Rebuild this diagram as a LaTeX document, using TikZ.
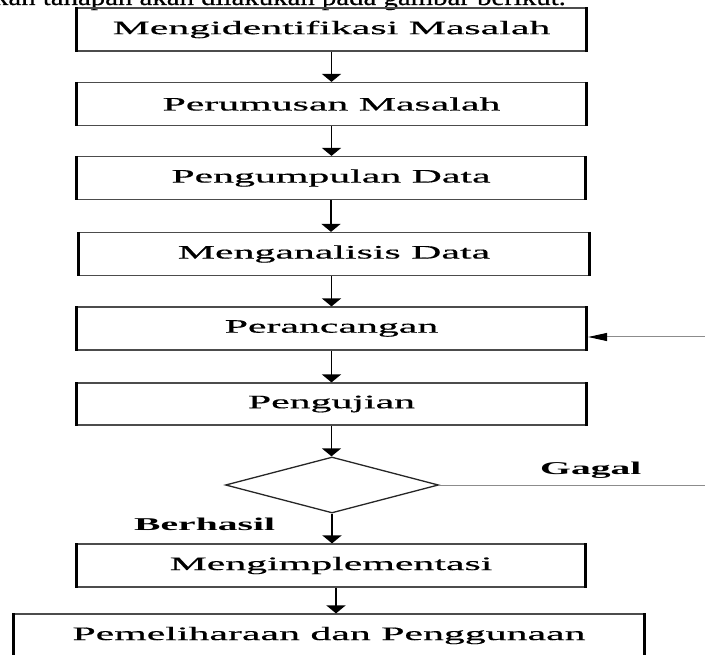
\documentclass[tikz,border=0pt]{standalone}
\usepackage{fontspec}
\setmainfont{Liberation Serif}
\newfontfamily\boxfont{Liberation Serif}[FakeBold=0.4]
\usepackage{graphicx}
\usetikzlibrary{arrows.meta,shapes.geometric}
\newcommand\sx[1]{\scalebox{2.2}[1]{#1}}
\begin{document}
\begin{tikzpicture}[x=1pt,y=-1pt,
  box/.style={draw=black!70, line width=1.2pt, minimum width=509pt, minimum height=43pt, inner sep=0pt, font=\boxfont\fontsize{19}{22}\selectfont},
  vedge/.style={line width=2.6pt, black},
  arr/.style={line width=1.7pt, -{Triangle[width=19pt,length=8pt]}},
  retarr/.style={line width=1pt, black!45, -{Triangle[width=8pt,length=19pt,color=black]}},
  lbl/.style={font=\fontsize{18}{21}\selectfont\bfseries, inner sep=0pt},
]
\useasboundingbox (0,0) rectangle (705,655);
\clip (0,0) rectangle (705,655);

\node[anchor=base east, inner sep=0pt, font=\boxfont\fontsize{24}{27}\selectfont] (top) at (566,5) {\scalebox{1.2}[1]{kan tahapan akan dilakukan pada gambar berikut.}};

\node[box] (b1) at (331.5,29.5) {\sx{Mengidentifikasi Masalah}};
\node[box] (b2) at (331.5,104) {\sx{Perumusan Masalah}};
\node[box, minimum width=508pt] (b3) at (331,178) {\sx{Pengumpulan Data}};
\node[box, minimum width=510pt] (b4) at (334,254) {\sx{Menganalisis Data}};
\node[box] (b5) at (331.5,328.5) {\sx{Perancangan}};
\node[box, minimum height=42pt] (b6) at (331.5,404) {\sx{Pengujian}};
\node[draw=black!85, line width=1.3pt, shape=diamond, minimum width=213pt, minimum height=56pt, inner sep=0pt] (dia) at (332,485) {};
\node[box, minimum width=508pt] (b7) at (331,565.5) {\sx{Mengimplementasi}};
\node[box, minimum width=630pt] (b8) at (329,635.5) {\sx{Pemeliharaan dan Penggunaan}};

\foreach \n in {b1,b2,b3,b4,b5,b6,b7,b8}
  \draw[vedge] (\n.north west) -- (\n.south west) (\n.north east) -- (\n.south east);

\draw[arr] (b1.south) -- (b1.south |- b2.north);
\draw[arr] (b2.south) -- (b2.south |- b3.north);
\draw[arr] (b3.south) -- (b3.south |- b4.north);
\draw[arr] (b4.south -| b5.south) -- (b5.north);
\draw[arr] (b5.south) -- (b5.south |- b6.north);
\draw[arr] (b6.south) -- (b6.south |- dia.north);
\draw[arr] (dia.south) -- (dia.south |- b7.north);
\draw[arr] ([xshift=5pt]b7.south) -- ([xshift=5pt]b7.south |- b8.north);

\coordinate (gR) at (705,485);
\coordinate (rR) at (705,337);
\draw[line width=1pt, black!45] (dia.east) -- (gR);
\draw[retarr] (rR) -- ([xshift=1.5pt]b5.east |- rR);

\node[lbl, anchor=base west] (gagal) at (540,474) {\sx{Gagal}};
\node[lbl, anchor=base west] (berhasil) at (134,530) {\sx{Berhasil}};
\end{tikzpicture}
\end{document}
